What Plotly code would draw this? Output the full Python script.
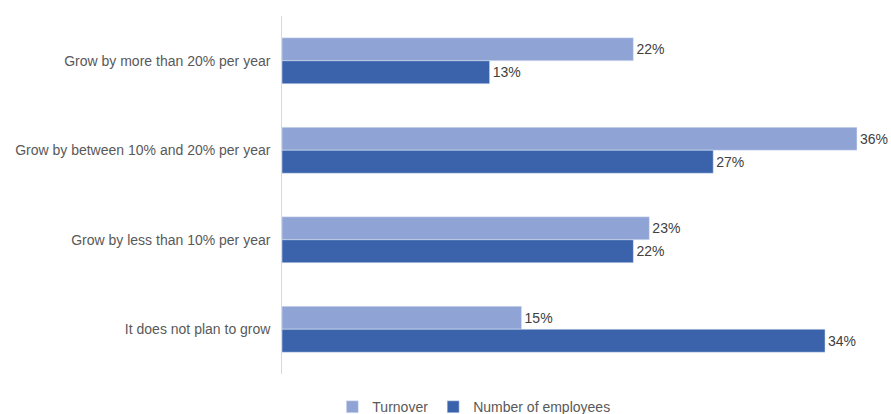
import plotly.graph_objects as go

categories = [
    "Grow by more than 20% per year",
    "Grow by between 10% and 20% per year",
    "Grow by less than 10% per year",
    "It does not plan to grow",
]
turnover = [22, 36, 23, 15]
employees = [13, 27, 22, 34]

FONT = "Liberation Sans, Arial"

fig = go.Figure()
fig.add_trace(go.Bar(
    y=categories, x=turnover, orientation="h", name="Turnover",
    marker=dict(color="#8FA3D5"),
    text=[f"{v}%" for v in turnover], textposition="outside",
    textfont=dict(color="#404040", size=14, family=FONT),
    cliponaxis=False, constraintext="none",
))
fig.add_trace(go.Bar(
    y=categories, x=employees, orientation="h", name="Number of employees",
    marker=dict(color="#3A63AC"),
    text=[f"{v}%" for v in employees], textposition="outside",
    textfont=dict(color="#404040", size=14, family=FONT),
    cliponaxis=False, constraintext="none",
))

fig.update_layout(
    width=891, height=414,
    barmode="group", bargap=0.486, bargroupgap=0,
    plot_bgcolor="white", paper_bgcolor="white",
    margin=dict(l=282, r=0, t=16, b=40, autoexpand=False),
    font=dict(family=FONT, color="#595959", size=14),
    showlegend=True,
    legend=dict(orientation="h", x=0.315, xanchor="center", y=-0.048, yanchor="top",
                font=dict(size=14, color="#595959"), itemwidth=30,
                traceorder="normal"),
    xaxis=dict(range=[0, 38.13], showgrid=False, showticklabels=False,
               zeroline=False, showline=False, automargin=False),
    yaxis=dict(categoryorder="array", categoryarray=categories, autorange="reversed",
               showline=True, linecolor="#D9D9D9", linewidth=1, ticks="",
               ticksuffix="  ", showgrid=False, automargin=False),
)

fig.write_html(
    "out.html",
    config={"displayModeBar": False},
    post_script="document.body.style.margin='0';document.body.style.overflow='hidden';",
)
